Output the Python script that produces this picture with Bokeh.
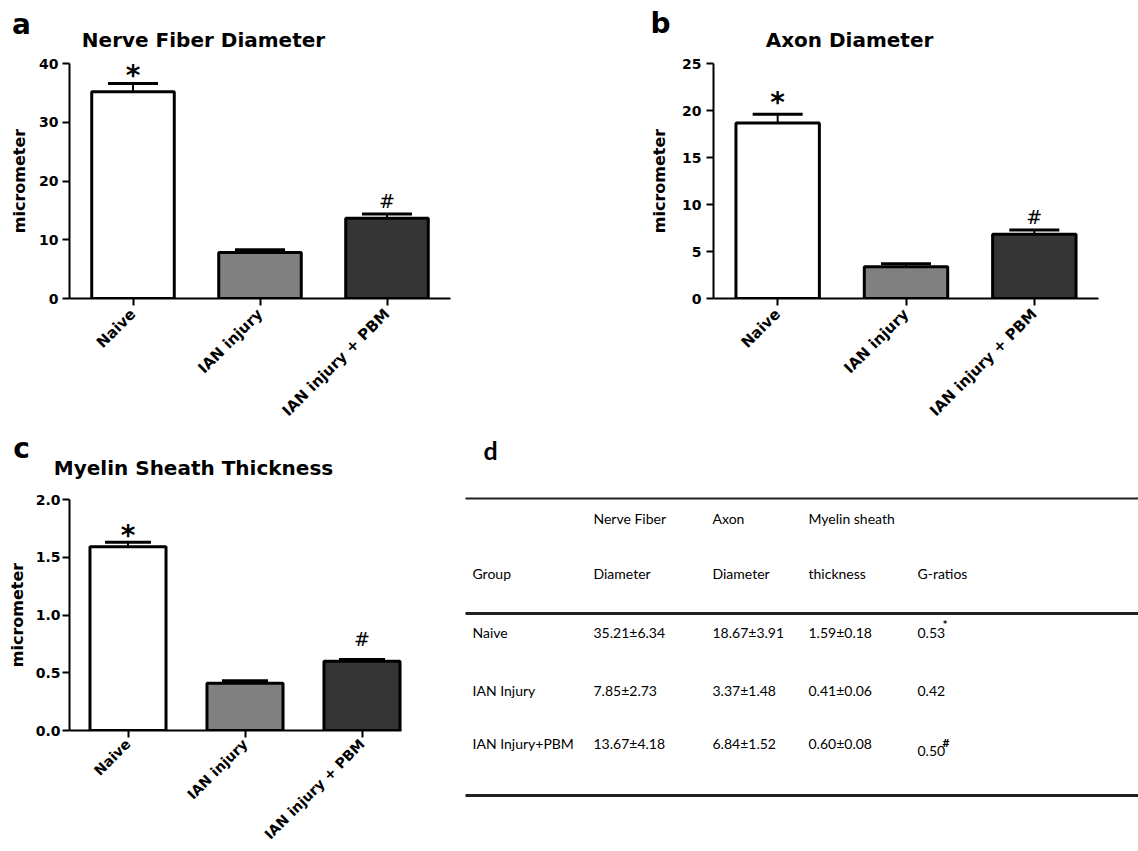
import math
from bokeh.plotting import figure
from bokeh.models import (FactorRange, Range1d, ColumnDataSource, Whisker, TeeHead,
                          LabelSet, Label, FixedTicker, NumeralTickFormatter)
from bokeh.layouts import row, column
from bokeh.embed import file_html
from bokeh.resources import INLINE
from bokeh.core.properties import value

# ---------------- data ----------------
groups = ["Naive", "IAN injury", "IAN injury + PBM"]
bar_colors = ["#ffffff", "#808080", "#353535"]
marks = ["*", "", "#"]

fiber_mean = [35.21, 7.85, 13.67]
fiber_err = [1.4, 0.45, 0.72]
axon_mean = [18.67, 3.37, 6.84]
axon_err = [0.93, 0.33, 0.46]
myelin_mean = [1.59, 0.41, 0.60]
myelin_err = [0.04, 0.02, 0.015]

fiber_ticks = [0, 10, 20, 30, 40]
axon_ticks = [0, 5, 10, 15, 20, 25]
myelin_ticks = [0.0, 0.5, 1.0, 1.5, 2.0]

tbl_groups = ["Naive", "IAN Injury", "IAN Injury+PBM"]
fiber_sd = [6.34, 2.73, 4.18]
axon_sd = [3.91, 1.48, 1.52]
myelin_sd = [0.18, 0.06, 0.08]
g_ratio = [0.53, 0.42, 0.50]
g_mark = ["*", "", "#"]
header_top = ["", "Nerve Fiber", "Axon", "Myelin sheath", ""]
header_bottom = ["Group", "Diameter", "Diameter", "thickness", "G-ratios"]

FONT = "DejaVu Sans"


def bar_panel(title, letter, means, errs, y_end, ticks, fmt, width, height,
              left, top, fw, fh, cap, tick_std, lab_std, axis_end,
              star_dy, hash_dy, title_dx, title_dy, letter_dx, letter_dy,
              cat_size, cat_std):
    p = figure(x_range=FactorRange(factors=groups, range_padding=0, factor_padding=0),
               y_range=Range1d(0, y_end), width=width, height=height,
               min_border_left=left, min_border_top=top,
               min_border_right=width - left - fw, min_border_bottom=height - top - fh,
               output_backend="svg", toolbar_location=None, tools="")
    p.outline_line_color = None
    p.xgrid.visible = False
    p.ygrid.visible = False
    p.background_fill_color = "white"
    p.border_fill_color = "white"

    upper = [m + e for m, e in zip(means, errs)]
    src = ColumnDataSource(dict(group=groups, mean=means, upper=upper, color=bar_colors))
    p.vbar(x="group", top="mean", bottom=0, width=0.65, fill_color="color",
           line_color="black", line_width=3, source=src)

    w = Whisker(source=src, base="group", upper="upper", lower="mean", dimension="height",
                line_color="black", line_width=2,
                upper_head=TeeHead(size=cap, line_width=3, line_color="black"),
                lower_head=None, level="glyph")
    p.add_layout(w)

    star_src = ColumnDataSource(dict(
        group=[g for g, m in zip(groups, marks) if m == "*"],
        y=[u for u, m in zip(upper, marks) if m == "*"],
        t=[m for m in marks if m == "*"]))
    hash_src = ColumnDataSource(dict(
        group=[g for g, m in zip(groups, marks) if m == "#"],
        y=[u for u, m in zip(upper, marks) if m == "#"],
        t=[m for m in marks if m == "#"]))
    p.add_layout(LabelSet(x="group", y="y", text="t", source=star_src, y_offset=star_dy,
                          text_align="center", text_baseline="alphabetic",
                          text_font=value(FONT), text_font_style="bold",
                          text_font_size="28px", text_color="black"))
    p.add_layout(LabelSet(x="group", y="y", text="t", source=hash_src, y_offset=hash_dy,
                          text_align="center", text_baseline="alphabetic",
                          text_font=value(FONT), text_font_style="normal",
                          text_font_size="19px", text_color="black"))

    xa = p.xaxis[0]
    xa.axis_line_width = 2
    xa.axis_line_color = "black"
    xa.major_tick_line_width = 2
    xa.major_tick_line_color = "black"
    xa.major_tick_out = 7
    xa.major_tick_in = 0
    xa.major_label_orientation = math.pi / 4
    xa.major_label_standoff = cat_std
    xa.major_label_text_font = FONT
    xa.major_label_text_font_style = "bold"
    xa.major_label_text_font_size = cat_size
    xa.major_label_text_color = "black"
    if axis_end is not None:
        xa.bounds = (0, axis_end)

    ya = p.yaxis[0]
    ya.ticker = FixedTicker(ticks=ticks)
    ya.formatter = NumeralTickFormatter(format=fmt)
    ya.axis_line_width = 2
    ya.axis_line_color = "black"
    ya.major_tick_line_width = 2
    ya.major_tick_line_color = "black"
    ya.major_tick_out = 7
    ya.major_tick_in = 0
    ya.minor_tick_line_color = None
    ya.major_label_standoff = tick_std
    ya.major_label_text_font = FONT
    ya.major_label_text_font_style = "bold"
    ya.major_label_text_font_size = "14px"
    ya.major_label_text_color = "black"
    ya.axis_label = "micrometer"
    ya.axis_label_standoff = lab_std
    ya.axis_label_text_font = FONT
    ya.axis_label_text_font_style = "bold"
    ya.axis_label_text_font_size = "16px"
    ya.axis_label_text_color = "black"

    p.add_layout(Label(x=0, y=y_end, x_offset=title_dx, y_offset=title_dy, text=title,
                       text_align="center", text_baseline="alphabetic",
                       text_font=FONT, text_font_style="bold", text_font_size="20px",
                       text_color="black"), "above")
    p.add_layout(Label(x=0, y=y_end, x_offset=letter_dx, y_offset=letter_dy, text=letter,
                       text_align="center", text_baseline="alphabetic",
                       text_font=FONT, text_font_style="bold", text_font_size="28px",
                       text_color="black"), "above")
    return p


pa = bar_panel("Nerve Fiber Diameter", "a", fiber_mean, fiber_err, 40, fiber_ticks, "0",
               620, 430, 69, 62, 381, 236, 50, 4, 7, None,
               -2, 6, 134, 24, -48, 39, "15px", 6)
pb = bar_panel("Axon Diameter", "b", axon_mean, axon_err, 25, axon_ticks, "0",
               518, 430, 93, 63, 385, 235, 50, 5, 10, None,
               2, 6, 136, 24, -53, 40, "15px", 6)
pc = bar_panel("Myelin Sheath Thickness", "c", myelin_mean, myelin_err, 2.0, myelin_ticks, "0.0",
               460, 421, 69, 69, 351, 231, 46, 2, 6, 2.835,
               -3, 13, 124, 32, -48, 51, "14px", 4)

# ---------------- table (panel d) ----------------
TW, TH = 678, 421
pd_ = figure(width=TW, height=TH, x_range=Range1d(0, TW), y_range=Range1d(TH, 0),
             min_border=0, x_axis_type=None, y_axis_type=None,
             output_backend="svg", toolbar_location=None, tools="")
pd_.outline_line_color = None
pd_.xgrid.visible = False
pd_.ygrid.visible = False

col_x = [12, 133, 252, 348, 457]
head1_y, head2_y = 88, 143
row_y = [202, 260, 313]
g_nudge = [0, 0, 7]
rule_y = [68, 183, 365]
rule_w = [2, 3, 3]
TFONT = "Lato"
TCOL = "#000000"

pd_.segment(x0=[5] * 3, x1=[TW] * 3, y0=rule_y, y1=rule_y, line_width=rule_w, line_color="#222222")

pd_.text(x=[23], y=[19], text=["d"], text_font=value(TFONT), text_font_style="bold",
         text_font_size="25px", text_color="black", text_baseline="alphabetic")

hx = [x for x, t in zip(col_x, header_top) if t]
ht = [t for t in header_top if t]
pd_.text(x=hx, y=[head1_y] * len(hx), text=ht, text_font=value(TFONT), text_font_size="14px",
         text_color=TCOL, text_baseline="middle")
pd_.text(x=col_x, y=[head2_y] * len(col_x), text=header_bottom, text_font=value(TFONT),
         text_font_size="14px", text_color=TCOL, text_baseline="middle")

cells_x, cells_y, cells_t = [], [], []
for i, g in enumerate(tbl_groups):
    vals = [g,
            f"{fiber_mean[i]:.2f}\u00b1{fiber_sd[i]:.2f}",
            f"{axon_mean[i]:.2f}\u00b1{axon_sd[i]:.2f}",
            f"{myelin_mean[i]:.2f}\u00b1{myelin_sd[i]:.2f}",
            f"{g_ratio[i]:.2f}"]
    for j, v in enumerate(vals):
        cells_x.append(col_x[j])
        cells_y.append(row_y[i] + (g_nudge[i] if j == 4 else 0))
        cells_t.append(v)
pd_.text(x=cells_x, y=cells_y, text=cells_t, text_font=value(TFONT), text_font_size="14px",
         text_color=TCOL, text_baseline="middle")

mx = [col_x[4] + 25 for m in g_mark if m]
my = [row_y[i] + g_nudge[i] - 8 for i, m in enumerate(g_mark) if m]
mt = [m for m in g_mark if m]
pd_.text(x=mx, y=my, text=mt, text_font=value(TFONT), text_font_style="bold",
         text_font_size="12px", text_color=TCOL, text_baseline="middle")

layout = column(row(pa, pb), row(pc, column(pd_)))
open("out.html", "w").write(file_html(layout, INLINE, title="Nerve morphometry"))
